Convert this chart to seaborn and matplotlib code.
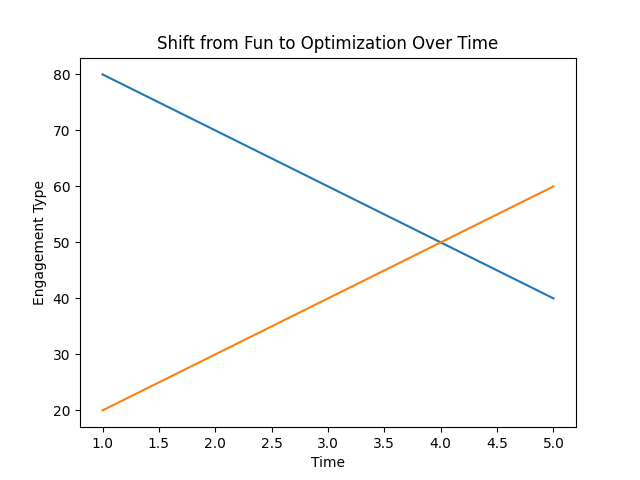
import matplotlib
matplotlib.use("Agg")
import matplotlib.pyplot as plt
import seaborn as sns
import pandas as pd

time = [1, 2, 3, 4, 5]
fun = [80, 70, 60, 50, 40]
optimization = [20, 30, 40, 50, 60]

df = pd.DataFrame({
    "Time": time * 2,
    "Engagement Type": fun + optimization,
    "series": ["Fun"] * len(time) + ["Optimization"] * len(time),
})

fig, ax = plt.subplots(figsize=(6.4, 4.8), dpi=100)
sns.lineplot(data=df, x="Time", y="Engagement Type", hue="series", ax=ax, legend=False)
ax.set_title("Shift from Fun to Optimization Over Time")
fig.savefig("out.png", dpi=100)
